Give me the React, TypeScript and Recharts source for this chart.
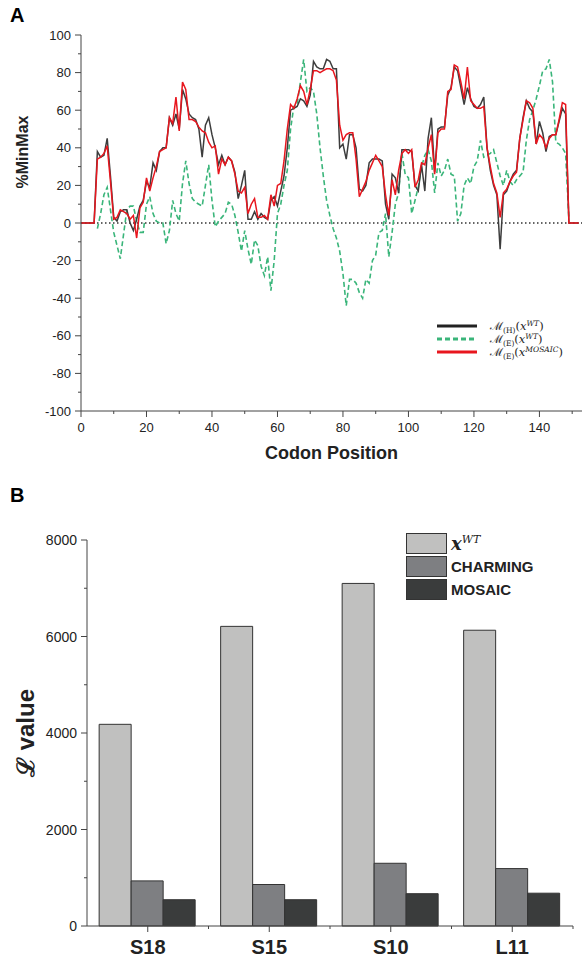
import {
  LineChart,
  Line,
  XAxis,
  YAxis,
  ReferenceLine,
  BarChart,
  Bar,
  Legend,
} from "recharts"

// panel A: codon positions and the three %MinMax profiles
const codons = Array.from({ length: 153 }, (_, i) => i)

const hWT = [
  0, 0, 0, 0, 0, 38, 35, 36, 45, 25, 3, 1, 6, 7, 7, 0, -4, 2, 9, 12,
  22, 19, 32, 28, 38, 40, 40, 56, 52, 58, 50, 71, 66, 58, 56, 55, 50, 35, 52, 56,
  47, 40, 31, 36, 31, 35, 33, 27, 13, 20, 28, 2, 2, 6, 2, 5, 3, 2, 12, 14,
  9, 17, 25, 40, 60, 61, 62, 66, 65, 62, 68, 86, 83, 82, 82, 87, 86, 82, 82, 40,
  42, 34, 47, 47, 40, 18, 17, 20, 32, 34, 34, 34, 33, 10, 2, 26, 24, 16, 39, 39,
  39, 38, 20, 17, 31, 17, 45, 56, 27, 50, 51, 51, 68, 72, 83, 81, 72, 63, 72, 66,
  62, 61, 63, 67, 40, 28, 20, 15, -14, 15, 17, 22, 26, 28, 45, 56, 65, 61, 59, 42,
  54, 48, 38, 46, 47, 47, 54, 61, 58, 0, 0, 0, 0,
]

const eWT = [
  null, null, null, null, null, -3, 5, 15, 19, 7, -5, -12, -19, -6, 7, 9, 9, 1, -5, -5,
  10, 14, 5, 1, 0, 0, -11, -4, 12, 5, 1, 21, 33, 21, 13, 11, 10, 9, 20, 31,
  12, -2, 1, 3, 5, 11, 10, 4, -5, -15, -4, -14, -22, -9, -12, -23, -28, -18, -36, -20,
  5, 10, 20, 28, 50, 62, 63, 75, 87, 70, 72, 70, 58, 40, 25, 12, 4, -3, -8, -15,
  -27, -44, -30, -30, -32, -37, -40, -30, -32, -20, -17, -5, -4, 5, -18, -5, 10, 16, 37, 26,
  24, 5, 12, 19, 30, 36, 39, 33, 16, 32, 25, 28, 34, 26, 25, 1, 5, 20, 24, 21,
  30, 33, 44, 35, 36, 37, 39, 32, 25, 20, 28, 22, 20, 23, 25, 27, 44, 55, 60, 66,
  73, 81, 82, 87, 75, 43, 42, 40, 37, 2, null, null, null,
]

const mosaic = [
  0, 0, 0, 0, 0, 34, 35, 37, 41, 22, 2, 3, 7, 6, 5, 2, 4, -8, 8, 11,
  24, 17, 24, 30, 38, 39, 40, 56, 53, 67, 49, 75, 71, 55, 55, 54, 51, 49, 48, 43,
  40, 41, 26, 34, 31, 35, 33, 26, 17, 16, 19, 5, 10, 13, 3, 3, 4, 2, 15, 9,
  20, 21, 33, 50, 63, 61, 66, 73, 70, 63, 71, 81, 81, 80, 81, 82, 82, 81, 76, 52,
  44, 47, 48, 48, 34, 14, 18, 22, 28, 32, 36, 33, 30, 15, 4, 23, 15, 28, 37, 39,
  37, 39, 19, 23, 32, 31, 40, 47, 26, 48, 50, 50, 70, 71, 84, 83, 75, 66, 83, 65,
  63, 61, 61, 62, 40, 30, 21, 16, 3, 16, 18, 22, 25, 27, 45, 55, 65, 64, 61, 42,
  47, 45, 40, 45, 47, 47, 55, 64, 63, 0, 0, 0, 0,
]

const xTicksA = [0, 10, 20, 30, 40, 50, 60, 70, 80, 90, 100, 110, 120, 130, 140, 150]
const yTicksA = [-100, -90, -80, -70, -60, -50, -40, -30, -20, -10, 0, 10, 20, 30, 40, 50, 60, 70, 80, 90, 100]

// panel B: loss values per protein
const proteins = ["S18", "S15", "S10", "L11"]
const wtValues = [4180, 6210, 7100, 6130]
const charmingValues = [935, 860, 1300, 1190]
const mosaicValues = [545, 545, 670, 680]
const yTicksB = [0, 1000, 2000, 3000, 4000, 5000, 6000, 7000, 8000]

const lineRows = codons.map((c, i) => ({ codon: c, h: hWT[i], e: eWT[i], m: mosaic[i] }))
const barRows = proteins.map((p, i) => ({
  protein: p,
  wt: wtValues[i],
  charming: charmingValues[i],
  mosaic: mosaicValues[i],
}))

const SANS = "'Liberation Sans', Arial, sans-serif"
const MATH = "'DejaVu Serif', serif"
const AXIS = "#444"
const TICK_OFF = 9 // tickSize + tickMargin

const XTickA = ({ x, y, payload }: any) => {
  const major = payload.value % 20 === 0
  const ay = y - TICK_OFF
  return (
    <g>
      <line x1={x} x2={x} y1={ay} y2={ay + (major ? 6 : 3)} stroke={AXIS} />
      {major && (
        <text x={x} y={ay + 21} textAnchor="middle" fontSize={13} fontFamily={SANS} fill="#222">
          {payload.value}
        </text>
      )}
    </g>
  )
}

const YTickA = ({ x, y, payload }: any) => {
  const major = payload.value % 20 === 0
  const ax = x + TICK_OFF
  return (
    <g>
      <line x1={ax} x2={ax - (major ? 6 : 3)} y1={y} y2={y} stroke={AXIS} />
      {major && (
        <text x={ax - 10} y={y + 4.5} textAnchor="end" fontSize={13} fontFamily={SANS} fill="#222">
          {payload.value}
        </text>
      )}
    </g>
  )
}

const YTickB = ({ x, y, payload }: any) => {
  const major = payload.value % 2000 === 0
  const ax = x + TICK_OFF
  return (
    <g>
      <line x1={ax} x2={ax - (major ? 6 : 3)} y1={y} y2={y} stroke={AXIS} />
      {major && (
        <text x={ax - 10} y={y + 5} textAnchor="end" fontSize={14} fontFamily={SANS} fill="#222">
          {payload.value}
        </text>
      )}
    </g>
  )
}

const HALF_BAND = 60.75

const XTickB = ({ x, y, payload }: any) => {
  const ay = y - TICK_OFF
  return (
    <g>
      <line x1={x} x2={x} y1={ay} y2={ay + 6} stroke={AXIS} />
      <line x1={x + HALF_BAND} x2={x + HALF_BAND} y1={ay} y2={ay + 3} stroke={AXIS} />
      <text x={x} y={ay + 28} textAnchor="middle" fontSize={20} fontWeight="bold" fontFamily={SANS} fill="#222">
        {payload.value}
      </text>
    </g>
  )
}

const YTitle = ({ viewBox, text, cx, dy = 0, size }: any) => {
  const cy = viewBox.y + viewBox.height / 2 + dy
  return (
    <text
      transform={`translate(${cx},${cy}) rotate(-90)`}
      textAnchor="middle"
      fontSize={size}
      fontWeight="bold"
      fontFamily={SANS}
      fill="#222"
    >
      {text}
    </text>
  )
}

const XTitle = ({ viewBox, text, dy, size }: any) => (
  <text
    x={viewBox.x + viewBox.width / 2}
    y={viewBox.y + dy}
    textAnchor="middle"
    fontSize={size}
    fontWeight="bold"
    fontFamily={SANS}
    fill="#222"
  >
    {text}
  </text>
)

const legendA = [
  { sub: "(H)", sup: "WT", color: "#222", dash: undefined },
  { sub: "(E)", sup: "WT", color: "#3ab57a", dash: "5 3" },
  { sub: "(E)", sup: "MOSAIC", color: "#e8161e", dash: undefined },
]

const LegendA = () => (
  <svg width={146} height={44} style={{ display: "block", overflow: "visible" }}>
    {legendA.map((item, i) => {
      const ly = 6 + i * 13
      return (
        <g key={i}>
          <line x1={0} x2={40} y1={ly} y2={ly} stroke={item.color} strokeWidth={3} strokeDasharray={item.dash} />
          <text x={53} y={ly + 4} fontFamily={MATH} fontSize={11.5} fill="#222">
            ℳ
            <tspan fontSize={7.5} dy={2.5}>{item.sub}</tspan>
            <tspan dy={-2.5}>(</tspan>
            <tspan fontStyle="italic">x</tspan>
            <tspan fontSize={7.5} fontStyle="italic" dy={-4}>{item.sup}</tspan>
            <tspan dy={4}>)</tspan>
          </text>
        </g>
      )
    })}
  </svg>
)

const legendB = [
  { key: "wt", color: "#c0c0bf" },
  { key: "charming", color: "#7e7f82" },
  { key: "mosaic", color: "#3a3c3c" },
]

const LegendB = () => (
  <div>
    {legendB.map((item) => (
      <div key={item.key} style={{ display: "flex", alignItems: "center", height: 23 }}>
        <div
          style={{
            width: 39,
            height: 19,
            background: item.color,
            border: "1px solid #333",
            flex: "none",
          }}
        />
        <span
          style={{
            marginLeft: 4,
            fontFamily: SANS,
            fontWeight: "bold",
            fontSize: 15,
            color: "#222",
            whiteSpace: "nowrap",
          }}
        >
          {item.key === "wt" ? (
            <span style={{ fontFamily: MATH, fontStyle: "italic", fontSize: 18 }}>
              x<span style={{ fontSize: 11, position: "relative", top: -7, fontWeight: "normal" }}>WT</span>
            </span>
          ) : item.key === "charming" ? (
            "CHARMING"
          ) : (
            "MOSAIC"
          )}
        </span>
      </div>
    ))}
  </div>
)

export default function App() {
  return (
    <div style={{ position: "absolute", left: 0, top: 0, width: 583, height: 959, background: "#fff" }}>
      <div style={{ position: "absolute", left: 10, top: 4, fontFamily: SANS, fontWeight: "bold", fontSize: 20 }}>A</div>
      <div style={{ position: "absolute", left: 10, top: 484, fontFamily: SANS, fontWeight: "bold", fontSize: 20 }}>B</div>

      <div style={{ position: "absolute", left: 0, top: 0 }}>
        <LineChart width={583} height={470} data={lineRows} margin={{ top: 35, right: 1, bottom: 14, left: 0 }}>
          <XAxis
            dataKey="codon"
            type="number"
            domain={[0, 153]}
            ticks={xTicksA}
            interval={0}
            height={45}
            tickSize={6}
            tickMargin={3}
            tickLine={false}
            stroke={AXIS}
            tick={<XTickA />}
            label={<XTitle text="Codon Position" dy={48} size={18} />}
          />
          <YAxis
            type="number"
            domain={[-100, 100]}
            ticks={yTicksA}
            interval={0}
            width={81}
            tickSize={6}
            tickMargin={3}
            tickLine={false}
            stroke={AXIS}
            tick={<YTickA />}
            label={<YTitle text="%MinMax" cx={28} dy={-71} size={16} />}
          />
          <ReferenceLine y={0} stroke="#333" strokeDasharray="1.5 2.5" strokeWidth={1.3} />
          <Line
            dataKey="e"
            type="linear"
            stroke="#3ab57a"
            strokeWidth={1.6}
            strokeDasharray="5 3"
            dot={false}
            isAnimationActive={false}
          />
          <Line dataKey="h" type="linear" stroke="#3d3d3d" strokeWidth={1.5} dot={false} isAnimationActive={false} />
          <Line dataKey="m" type="linear" stroke="#e8161e" strokeWidth={1.5} dot={false} isAnimationActive={false} />
          <Legend
            layout="vertical"
            align="center"
            verticalAlign="middle"
            content={<LegendA />}
            wrapperStyle={{ left: 437, top: 320, width: 146 }}
          />
        </LineChart>
      </div>

      <div style={{ position: "absolute", left: 0, top: 490 }}>
        <BarChart
          width={583}
          height={469}
          data={barRows}
          margin={{ top: 50, right: 10, bottom: 0, left: 0 }}
          barCategoryGap="10%"
          barGap={0}
        >
          <XAxis
            dataKey="protein"
            height={33}
            tickSize={6}
            tickMargin={3}
            tickLine={false}
            stroke={AXIS}
            interval={0}
            tick={<XTickB />}
          />
          <YAxis
            type="number"
            domain={[0, 8000]}
            ticks={yTicksB}
            interval={0}
            width={87}
            tickSize={6}
            tickMargin={3}
            tickLine={false}
            stroke={AXIS}
            tick={<YTickB />}
            label={<YTitle text="ℒ value" cx={34} size={24} />}
          />
          <Bar dataKey="wt" fill="#c0c0bf" stroke="#333" strokeWidth={1} isAnimationActive={false} />
          <Bar dataKey="charming" fill="#7e7f82" stroke="#333" strokeWidth={1} isAnimationActive={false} />
          <Bar dataKey="mosaic" fill="#3a3c3c" stroke="#333" strokeWidth={1} isAnimationActive={false} />
          <Legend
            layout="vertical"
            align="center"
            verticalAlign="middle"
            content={<LegendB />}
            wrapperStyle={{ left: 406, top: 42, width: 177 }}
          />
        </BarChart>
      </div>
    </div>
  )
}
